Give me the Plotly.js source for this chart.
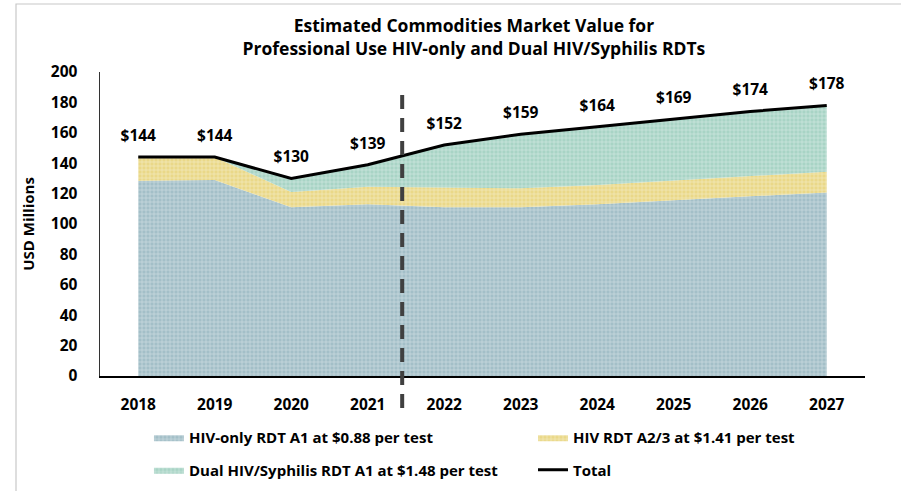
<!DOCTYPE html>
<html>
<head>
<meta charset="utf-8">
<script src="https://cdn.plot.ly/plotly-3.0.1.min.js"></script>
<style>html,body{margin:0;padding:0;background:#fff;}#chart{width:901px;height:491px;}</style>
</head>
<body>
<div id="chart"></div>
<script>
const years = ['2018','2019','2020','2021','2022','2023','2024','2025','2026','2027'];
const hivOnlyA1 = [128.5,129,111,113,111,111,113,115.5,118,120.8];
const hivA23 = [15.5,15,10,11.5,13,12.5,12.7,13,13.5,13.6];
const dualA1 = [0,0,9,14.5,28,35.5,38.3,40.5,42.5,43.6];
const totals = [144,144,130,139,152,159,164,169,174,178];
const totalLabels = totals.map(v => '$' + v);
const yTicks = [0,20,40,60,80,100,120,140,160,180,200];

const FONT = 'Open Sans, Noto Sans, sans-serif';
const boldFont = (size) => ({family: FONT, size: size, color: '#000', weight: 'bold'});

function areaTrace(name, values, color, legend, group) {
  return {
    type: 'scatter', mode: 'lines', x: years, y: values, name: name,
    stackgroup: 'one', line: {width: 0, color: color}, fillcolor: color,
    fillpattern: {shape: '+', size: 4, solidity: 0.25, fgcolor: 'rgba(255,255,255,0.55)', bgcolor: color},
    legend: legend, legendgroup: group, hoverinfo: 'skip'
  };
}

const data = [
  areaTrace('HIV-only RDT A1 at $0.88 per test', hivOnlyA1, '#a3bfc8', 'legend', 'g1'),
  areaTrace('HIV RDT A2/3 at $1.41 per test', hivA23, '#ead888', 'legend2', 'g2'),
  areaTrace('Dual HIV/Syphilis RDT A1 at $1.48 per test', dualA1, '#a8d4c5', 'legend', 'g3'),
  {
    type: 'scatter', mode: 'lines+markers+text', x: years, y: totals, name: 'Total',
    line: {color: '#000', width: 3}, marker: {size: 18, color: 'rgba(0,0,0,0)'},
    text: totalLabels, textposition: 'top center',
    textfont: boldFont(15.5), legend: 'legend2', legendgroup: 'g4', cliponaxis: false
  }
];

const layout = {
  width: 901, height: 491,
  margin: {l: 100, r: 36, t: 72, b: 115, autoexpand: false},
  paper_bgcolor: '#fff', plot_bgcolor: '#fff',
  title: {
    text: 'Estimated Commodities Market Value for<br>Professional Use HIV-only and Dual HIV/Syphilis RDTs',
    font: boldFont(17.5), x: 0.526, xanchor: 'center', y: 0.934, yanchor: 'top'
  },
  xaxis: {
    type: 'category', range: [-0.5, 9.5], showgrid: false, zeroline: false,
    showline: true, linecolor: '#000', linewidth: 1.5, ticks: '',
    tickfont: boldFont(15.5), ticklabelstandoff: 14, fixedrange: true
  },
  yaxis: {
    range: [0, 200], tickvals: yTicks, showgrid: false, zeroline: false,
    showline: true, linecolor: '#333', linewidth: 1.5, ticks: '',
    tickfont: boldFont(15.5), ticklabelstandoff: 18,
    title: {text: 'USD Millions', font: boldFont(15), standoff: 12}, fixedrange: true
  },
  showlegend: true,
  legend: {
    x: 0.064, xanchor: 'left', y: -0.148, yanchor: 'top', orientation: 'v',
    font: boldFont(15), tracegroupgap: 10, bgcolor: 'rgba(0,0,0,0)', itemwidth: 30
  },
  legend2: {
    x: 0.566, xanchor: 'left', y: -0.148, yanchor: 'top', orientation: 'v',
    font: boldFont(15), tracegroupgap: 10, bgcolor: 'rgba(0,0,0,0)', itemwidth: 30
  },
  shapes: [
    {type: 'line', xref: 'x', yref: 'paper', x0: 3.45, x1: 3.45, y0: -0.105, y1: 0.947,
     line: {color: '#404040', width: 4, dash: '14px,9px'}},
    {type: 'rect', xref: 'paper', yref: 'paper', x0: -0.1098, x1: 1.2, y0: -0.6, y1: 1.2237,
     line: {color: '#c8c8c8', width: 1.2}, fillcolor: 'rgba(0,0,0,0)', layer: 'below'}
  ]
};

Plotly.newPlot('chart', data, layout, {displayModeBar: false, staticPlot: true});
</script>
</body>
</html>
